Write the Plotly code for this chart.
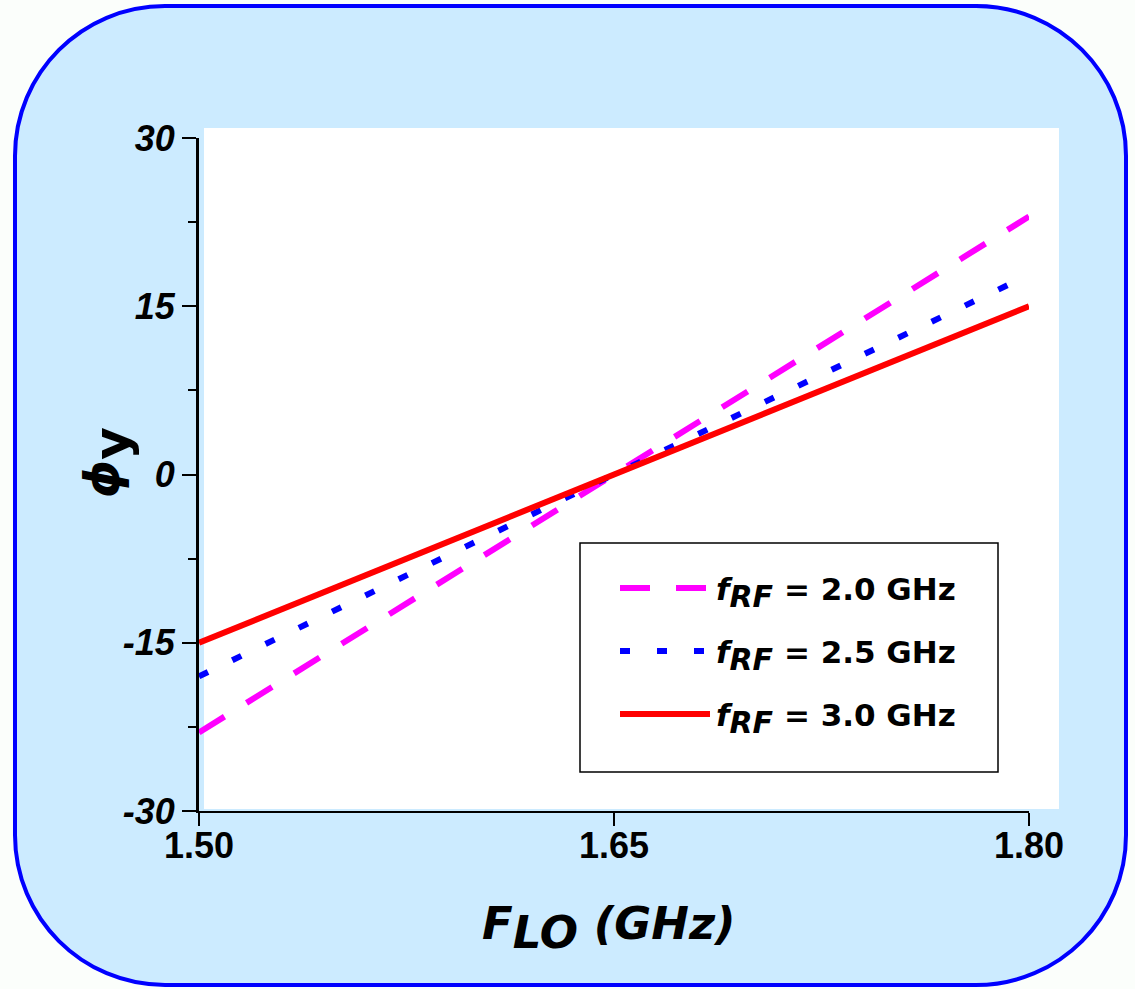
import plotly.graph_objects as go

# ---- data ----
f_lo = [1.50, 1.65, 1.80]
rf_labels = ["2.0", "2.5", "3.0"]
phi_20 = [-23.0, 0.0, 23.0]
phi_25 = [-18.0, 0.0, 17.8]
phi_30 = [-15.0, 0.0, 15.0]
x_tickvals = [1.50, 1.65, 1.80]
x_ticktext = ["1.50", "1.65", "1.80"]
y_tickvals = [-30, -15, 0, 15, 30]
y_ticktext = ["-30", "-15", "0", "15", "30"]

series = [phi_20, phi_25, phi_30]
colors = ["#FF00FF", "#0000FF", "#FF0000"]
dashes = ["30px,26px", "10px,27px", "solid"]

W, H = 1135, 989
PL, PR, PT, PB = 199, 1029, 138, 811  # plot area in pixels


def px(x):
    return (x - PL) / (PR - PL)


def py(y):
    return (PB - y) / (PB - PT)


FONT = "Liberation Sans, Arial, sans-serif"
WIDE = "DejaVu Sans, Verdana, sans-serif"

fig = go.Figure()
for vals, c, d, lab in zip(series, colors, dashes, rf_labels):
    fig.add_trace(go.Scatter(x=f_lo, y=vals, mode="lines",
                             line=dict(color=c, width=6, dash=d),
                             name="f_RF = " + lab + " GHz", showlegend=False))

# rounded background panel
x0, x1, y0, y1, r = 15, 1126, 6, 985, 150
k = 0.5523 * r


def P(x, y):
    return f"{px(x):.5f},{py(y):.5f}"


path = (f"M{P(x0 + r, y0)} L{P(x1 - r, y0)} "
        f"C{P(x1 - r + k, y0)} {P(x1, y0 + r - k)} {P(x1, y0 + r)} "
        f"L{P(x1, y1 - r)} "
        f"C{P(x1, y1 - r + k)} {P(x1 - r + k, y1)} {P(x1 - r, y1)} "
        f"L{P(x0 + r, y1)} "
        f"C{P(x0 + r - k, y1)} {P(x0, y1 - r + k)} {P(x0, y1 - r)} "
        f"L{P(x0, y0 + r)} "
        f"C{P(x0, y0 + r - k)} {P(x0 + r - k, y0)} {P(x0 + r, y0)} Z")

shapes = [
    dict(type="path", xref="paper", yref="paper", path=path,
         fillcolor="#CCEBFF", line=dict(color="#0000FF", width=4), layer="below"),
    dict(type="rect", xref="paper", yref="paper",
         x0=px(204), x1=px(1059), y0=py(809), y1=py(128),
         fillcolor="white", line=dict(width=0), layer="below"),
    # legend box
    dict(type="rect", xref="paper", yref="paper",
         x0=px(580), x1=px(998), y0=py(772), y1=py(543),
         fillcolor="white", line=dict(color="black", width=1.5), layer="above"),
]

annotations = []
rows_y = [588, 651, 714]
for c, d, lab, ry in zip(colors, dashes, rf_labels, rows_y):
    shapes.append(dict(type="line", xref="paper", yref="paper",
                       x0=px(620), x1=px(710), y0=py(ry), y1=py(ry),
                       line=dict(color=c, width=6, dash=d), layer="above"))
    annotations.append(dict(
        xref="paper", yref="paper", x=px(714), y=py(ry + 4),
        xanchor="left", yanchor="middle", showarrow=False,
        text="<i>f</i><sub><i><span style='font-size:30px'>RF</span></i></sub> = " + lab + " GHz",
        font=dict(family=WIDE, size=31, color="black", weight="bold")))

# axis titles
annotations.append(dict(
    xref="paper", yref="paper", x=px(609), y=py(928),
    xanchor="center", yanchor="middle", showarrow=False,
    text="<i>F<sub><span style='font-size:45px'>LO</span></sub> (GHz)</i>",
    font=dict(family=WIDE, size=45, color="black", weight="bold")))
annotations.append(dict(
    xref="paper", yref="paper", x=px(108), y=py(463),
    xanchor="center", yanchor="middle", showarrow=False, textangle=-90,
    text="<i>ϕ</i><sub><span style='font-size:50px'>y</span></sub>",
    font=dict(family=WIDE, size=48, color="black", weight="bold")))

fig.update_layout(
    width=W, height=H,
    margin=dict(l=PL, r=W - PR, t=PT, b=H - PB, pad=0),
    paper_bgcolor="#FBFEFB",
    plot_bgcolor="rgba(0,0,0,0)",
    shapes=shapes,
    annotations=annotations,
    showlegend=False,
    xaxis=dict(range=[1.5, 1.8], tickvals=x_tickvals, ticktext=x_ticktext,
               showgrid=False, zeroline=False, showline=True, linecolor="black",
               linewidth=2, ticks="outside", ticklen=13, tickwidth=2, tickcolor="black",
               tickfont=dict(family=FONT, size=36, color="black", weight="bold"),
               ticklabelstandoff=-11),
    yaxis=dict(range=[-30, 30], tickvals=y_tickvals, ticktext=y_ticktext,
               showgrid=False, zeroline=False, showline=True, linecolor="black",
               linewidth=3, ticks="outside", ticklen=14, tickwidth=2, tickcolor="black",
               minor=dict(dtick=7.5, tick0=0, ticks="outside", ticklen=8,
                          tickwidth=2, tickcolor="black", showgrid=False),
               tickfont=dict(family=FONT, size=36, color="black", weight="bold",
                             style="italic"),
               ticklabelstandoff=0),
)

fig.write_html("out.html", config={"displayModeBar": False},
               post_script="document.body.style.margin='0';")
